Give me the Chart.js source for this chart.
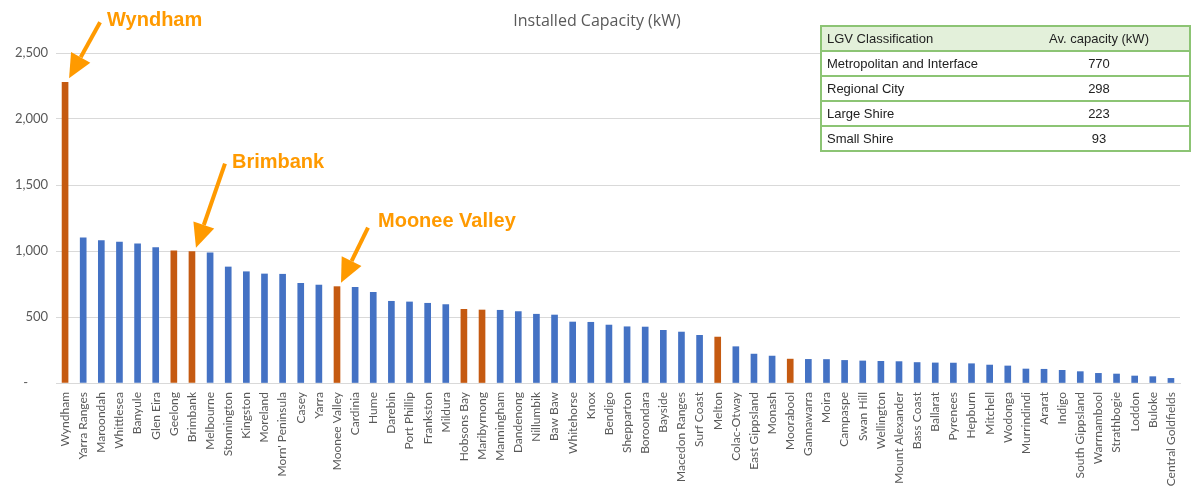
<!DOCTYPE html>
<html lang="en">
<head>
<meta charset="UTF-8">
<title>Installed Capacity (kW)</title>
<style>
  html, body { margin: 0; padding: 0; background: #fff; }
  .wrap { position: relative; width: 1192px; height: 486px; }
  canvas { display: block; }
  table.lgv {
    position: absolute; left: 820px; top: 25px; width: 371px;
    border-collapse: collapse; font-family: "Liberation Sans", Arial, sans-serif;
    font-size: 13px; color: #222; border: 2px solid #8cc474;
  }
  table.lgv td { border-top: 2px solid #8cc474; border-bottom: 2px solid #8cc474; height: 23px; padding: 0 5px; background: #fff; }
  table.lgv tr.head td { background: #e3f0da; }
  table.lgv td.v { text-align: center; width: 170px; }
</style>
</head>
<body>
<div class="wrap">
  <canvas id="capacityChart" width="1192" height="486"></canvas>
  <table class="lgv" id="lgvTable"></table>
</div>

<script src="https://cdn.jsdelivr.net/npm/chart.js"></script>
<script>
  const councils = ['Wyndham', 'Yarra Ranges', 'Maroondah', 'Whittlesea', 'Banyule', 'Glen Eira', 'Geelong',
    'Brimbank', 'Melbourne', 'Stonnington', 'Kingston', 'Moreland', "Morn' Peninsula", 'Casey', 'Yarra',
    'Moonee Valley', 'Cardinia', 'Hume', 'Darebin', 'Port Phillip', 'Frankston', 'Mildura', 'Hobsons Bay',
    'Maribyrnong', 'Manningham', 'Dandenong', 'Nillumbik', 'Baw Baw', 'Whitehorse', 'Knox', 'Bendigo',
    'Shepparton', 'Boroondara', 'Bayside', 'Macedon Ranges', 'Surf Coast', 'Melton', 'Colac-Otway',
    'East Gippsland', 'Monash', 'Moorabool', 'Gannawarra', 'Moira', 'Campaspe', 'Swan Hill', 'Wellington',
    'Mount Alexander', 'Bass Coast', 'Ballarat', 'Pyrenees', 'Hepburn', 'Mitchell', 'Wodonga', 'Murrindindi',
    'Ararat', 'Indigo', 'South Gippsland', 'Warrnambool', 'Strathbogie', 'Loddon', 'Buloke', 'Central Goldfields'];

  const capacity = [2278, 1100, 1078, 1068, 1055, 1025, 1002,
    995, 987, 879, 843, 826, 824, 755, 742,
    730, 725, 687, 619, 614, 604, 594, 558,
    553, 551, 541, 521, 515, 462, 460, 439,
    426, 424, 399, 386, 361, 348, 275,
    219, 204, 181, 179, 178, 171, 167, 164,
    162, 155, 152, 151, 146, 136, 129, 106,
    104, 96, 86, 73, 68, 53, 48, 35];

  // councils drawn in orange
  const highlighted = ['Wyndham', 'Geelong', 'Brimbank', 'Moonee Valley', 'Hobsons Bay', 'Maribyrnong', 'Melton', 'Moorabool'];

  // callouts with arrows
  const callouts = ['Wyndham', 'Brimbank', 'Moonee Valley'];

  const tableHead = ['LGV Classification', 'Av. capacity (kW)'];
  const lgvClasses = ['Metropolitan and Interface', 'Regional City', 'Large Shire', 'Small Shire'];
  const lgvAvg = [770, 298, 223, 93];

  const yTicks = [0, 500, 1000, 1500, 2000, 2500];

  // build the little summary table
  const tbl = document.getElementById('lgvTable');
  let rows = '<tr class="head"><td>' + tableHead[0] + '</td><td class="v">' + tableHead[1] + '</td></tr>';
  lgvClasses.forEach((c, i) => {
    rows += '<tr><td>' + c + '</td><td class="v">' + lgvAvg[i] + '</td></tr>';
  });
  tbl.innerHTML = rows;

  const BLUE = '#4472c4';
  const RUST = '#c55a11';
  const ORANGE = '#ff9a00';

  const colors = councils.map(c => highlighted.includes(c) ? RUST : BLUE);

  // title + orange callouts
  const extrasPlugin = {
    id: 'extras',
    afterDraw(chart) {
      const ctx = chart.ctx;
      const x = chart.scales.x, y = chart.scales.y;
      ctx.save();
      ctx.fillStyle = '#595959';
      ctx.font = '16px "Open Sans", sans-serif';
      ctx.textAlign = 'center';
      ctx.textBaseline = 'middle';
      ctx.fillText('Installed Capacity (kW)', 597, 21);

      const offsets = {
        'Wyndham': { tail: [35, -60], text: [42, -62] },
        'Brimbank': { tail: [33, -88], text: [40, -89] },
        'Moonee Valley': { tail: [31, -59], text: [41, -65] }
      };
      callouts.forEach(name => {
        const i = councils.indexOf(name);
        const bx = x.getPixelForValue(i);
        const by = y.getPixelForValue(capacity[i]);
        const o = offsets[name];
        const tipX = bx + 4, tipY = by - 4;
        const tx = bx + o.tail[0], ty = by + o.tail[1];
        const ang = Math.atan2(tipY - ty, tipX - tx);
        const headLen = 24, headW = 11;
        const baseX = tipX - headLen * Math.cos(ang), baseY = tipY - headLen * Math.sin(ang);
        ctx.strokeStyle = ORANGE;
        ctx.fillStyle = ORANGE;
        ctx.lineWidth = 4;
        ctx.beginPath();
        ctx.moveTo(tx, ty);
        ctx.lineTo(baseX, baseY);
        ctx.stroke();
        ctx.beginPath();
        ctx.moveTo(tipX, tipY);
        ctx.lineTo(baseX + headW * Math.sin(ang), baseY - headW * Math.cos(ang));
        ctx.lineTo(baseX - headW * Math.sin(ang), baseY + headW * Math.cos(ang));
        ctx.closePath();
        ctx.fill();

        ctx.font = 'bold 20px "Liberation Sans", Arial, sans-serif';
        ctx.textAlign = 'left';
        ctx.textBaseline = 'middle';
        ctx.fillText(name, bx + o.text[0], by + o.text[1]);
      });
      ctx.restore();
    }
  };

  new Chart(document.getElementById('capacityChart'), {
    type: 'bar',
    data: {
      labels: councils,
      datasets: [{
        data: capacity,
        backgroundColor: colors,
        barThickness: 6
      }]
    },
    options: {
      responsive: false,
      animation: false,
      layout: { padding: { top: 53, right: 12, left: 0, bottom: 0 } },
      plugins: {
        legend: { display: false },
        tooltip: { enabled: false }
      },
      scales: {
        x: {
          grid: { display: false },
          border: { color: '#d9d9d9', width: 1 },
          ticks: {
            minRotation: 90, maxRotation: 90, autoSkip: false,
            color: '#595959', padding: 1,
            font: { family: 'Lato', size: 12 }
          },
          afterFit(scale) { scale.height = 103; }
        },
        y: {
          min: 0, max: 2500,
          afterBuildTicks(scale) { scale.ticks = yTicks.map(v => ({ value: v })); },
          grid: { color: '#d9d9d9', drawTicks: false },
          border: { display: false },
          ticks: {
            color: '#595959', padding: 8,
            font: { family: 'Lato', size: 13 },
            callback: v => v === 0 ? '-      ' : v.toLocaleString('en-US')
          },
          afterFit(scale) { scale.width = 56; }
        }
      }
    },
    plugins: [extrasPlugin]
  });
</script>
</body>
</html>
